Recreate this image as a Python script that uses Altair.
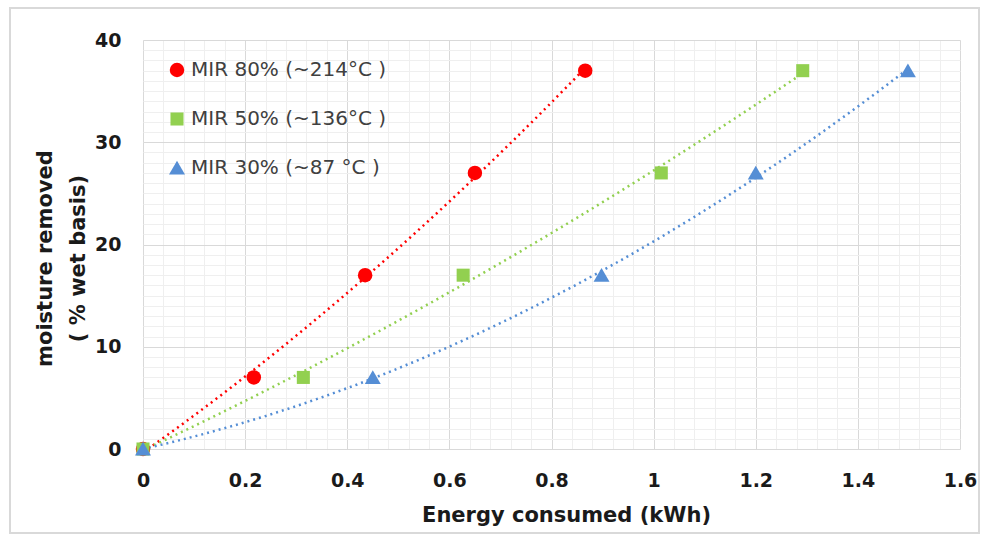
import altair as alt
import pandas as pd

# ---- data ----
series = ["MIR 80% (~214°C )", "MIR 50% (~136°C )", "MIR 30% (~87 °C )"]
energy_80 = [0, 0.217, 0.435, 0.650, 0.866]
energy_50 = [0, 0.314, 0.627, 1.015, 1.292]
energy_30 = [0, 0.450, 0.898, 1.200, 1.498]
moisture = [0, 7, 17, 27, 37]

x_ticks = [0, 0.2, 0.4, 0.6, 0.8, 1.0, 1.2, 1.4, 1.6]
y_ticks = [0, 10, 20, 30, 40]
x_minor = [round(i * 0.04, 2) for i in range(41)]
y_minor = list(range(0, 41))

colors = ["#FF0000", "#92D050", "#558ED5"]
shapes = ["circle", "M-0.9,-0.9L0.9,-0.9L0.9,0.9L-0.9,0.9Z", "M0,-1L-1.1,0.9L1.1,0.9Z"]

rows = []
for name, xs in zip(series, [energy_80, energy_50, energy_30]):
    for xv, yv in zip(xs, moisture):
        rows.append({"series": name, "grp": name, "energy": xv, "moisture": yv})
df = pd.DataFrame(rows)

W, H = 817, 409
xscale = alt.Scale(domain=[0, 1.6], nice=False, zero=False)
yscale = alt.Scale(domain=[0, 40], nice=False, zero=False)

FONT = "DejaVu Sans"

# minor grid layer
minor = alt.Chart(df).mark_point(opacity=0).encode(
    x=alt.X("energy:Q", scale=xscale,
            axis=alt.Axis(values=x_minor, grid=True, gridColor="#EFEFEF", gridWidth=1,
                          labels=False, ticks=False, domain=False, title=None, orient="bottom")),
    y=alt.Y("moisture:Q", scale=yscale,
            axis=alt.Axis(values=y_minor, grid=True, gridColor="#EFEFEF", gridWidth=1,
                          labels=False, ticks=False, domain=False, title=None, orient="left")),
)

# trend lines (polynomial fits) with major axes; stroke scale given in reversed order
# so that its (hidden) legend is not merged with the visible one
lines = alt.Chart(df).transform_regression(
    "energy", "moisture", method="poly", order=2, groupby=["grp"]
).mark_line(strokeWidth=2.5, strokeDash=[2, 4]).encode(
    x=alt.X("energy:Q", scale=xscale,
            axis=alt.Axis(values=x_ticks, grid=True, gridColor="#D9D9D9", gridWidth=1,
                          ticks=False, domain=False, orient="bottom",
                          labelFont=FONT, labelFontWeight="bold", labelFontSize=19,
                          labelColor="#1a1a1a", labelPadding=22, labelFlush=False,
                          labelExpr="datum.value == 0 ? '0' : format(datum.value, '.1~f')",
                          title="Energy consumed (kWh)", titleFont=FONT, titleFontWeight="bold",
                          titleFontSize=21, titleColor="#1a1a1a", titleX=423, titleY=66,
                          titleBaseline="middle", titleAnchor="middle")),
    y=alt.Y("moisture:Q", scale=yscale,
            axis=alt.Axis(values=y_ticks, grid=True, gridColor="#D9D9D9", gridWidth=1,
                          ticks=False, domain=False, orient="left",
                          labelFont=FONT, labelFontWeight="bold", labelFontSize=19,
                          labelColor="#1a1a1a", labelPadding=22, labelFlush=False,
                          title=["moisture removed", "( % wet basis)"], titleFont=FONT,
                          titleFontWeight="bold", titleFontSize=21, titleColor="#1a1a1a",
                          titleAngle=270, titleX=-98, titleY=218, titleBaseline="middle",
                          titleAlign="center", titleLineHeight=33)),
    stroke=alt.Stroke("grp:N", scale=alt.Scale(domain=series[::-1], range=colors[::-1]),
                      legend=None),
    detail="grp:N",
)

leg = alt.Legend(title=None, orient="none", legendX=24, legendY=20,
                 labelFont=FONT, labelFontSize=20, labelColor="#404040", labelLimit=0,
                 symbolSize=210, rowPadding=29, padding=0, labelOffset=4,
                 symbolOpacity=1, symbolStrokeWidth=0)

points = alt.Chart(df).mark_point(filled=True, opacity=1, strokeWidth=0, size=210).encode(
    x=alt.X("energy:Q", scale=xscale, axis=None),
    y=alt.Y("moisture:Q", scale=yscale, axis=None),
    color=alt.Color("series:N", scale=alt.Scale(domain=series, range=colors), legend=leg),
    shape=alt.Shape("series:N", scale=alt.Scale(domain=series, range=shapes), legend=leg),
)

frame = alt.Chart(df).mark_rect(fill=None, stroke="#D9D9D9", strokeWidth=2).encode(
    x=alt.value(-133), x2=alt.value(836), y=alt.value(-32), y2=alt.value(493)
)

chart = alt.layer(frame, minor, lines, points).resolve_axis(
    x="independent", y="independent"
).properties(
    width=W, height=H,
    autosize=alt.AutoSizeParams(type="none"),
    padding={"left": 143, "top": 40, "right": 21, "bottom": 85},
).configure_view(stroke="#D9D9D9", strokeWidth=1.5).configure(background="white")

chart.save("out.html", embed_options={"renderer": "svg", "actions": False})
